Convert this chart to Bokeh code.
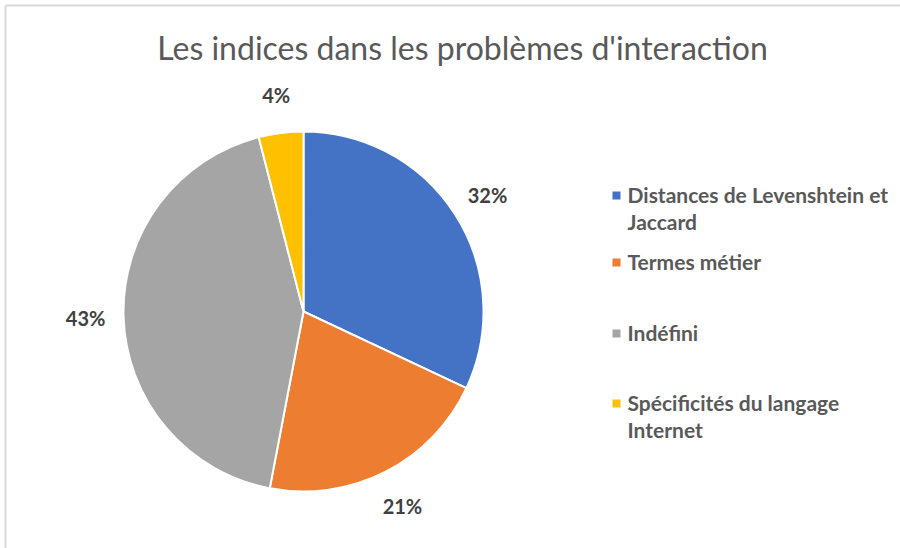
import numpy as np
from bokeh.plotting import figure
from bokeh.models import Range1d
from bokeh.core.properties import value
from bokeh.embed import file_html
from bokeh.resources import INLINE

categories = ["Distances de Levenshtein et\nJaccard", "Termes métier", "Indéfini",
              "Spécificités du langage\nInternet"]
values = [32, 21, 43, 4]
colors = ["#4472C4", "#ED7D31", "#A5A5A5", "#FFC000"]
labels = ["32%", "21%", "43%", "4%"]
title = "Les indices dans les problèmes d'interaction"

W, H = 900, 548
p = figure(width=W, height=H, x_range=Range1d(0, W), y_range=Range1d(0, H),
           output_backend="svg", toolbar_location=None, min_border=0)
p.axis.visible = False
p.grid.visible = False
p.outline_line_color = None
p.background_fill_color = "white"

# frame lines
p.segment(x0=[5, 5], y0=[H - 5, H - 5], x1=[W, 5], y1=[H - 5, 0],
          line_color="#d9d9d9", line_width=2)

cx, cy, r = 303, H - 311, 180
vals = np.array(values, dtype=float)
frac = vals / vals.sum()
ang = np.cumsum(np.concatenate([[0], frac])) * 2 * np.pi
start = np.pi / 2 - ang[:-1]
end = np.pi / 2 - ang[1:]
p.wedge(x=cx, y=cy, radius=r, start_angle=start, end_angle=end, direction="clock",
        fill_color=colors, line_color="white", line_width=2)

mid = (start + end) / 2
lr = 218
p.text(x=cx + lr * np.cos(mid), y=cy + lr * np.sin(mid), text=labels,
       text_font=value("Lato"), text_font_style="bold", text_font_size="20px",
       text_color="#404040", text_align="center", text_baseline="middle")

# title
p.text(x=[462], y=[H - 47], text=[title], text_font=value("Lato"),
       text_font_size="32px", text_color="#595959", text_align="center",
       text_baseline="middle")

# legend
fs = 21
lh = 1.07
spacing = fs * 1.2 * lh
leg_y = [195, 262, 333, 403]
nlines = [c.count("\n") + 1 for c in categories]
p.rect(x=[616] * 4, y=[H - v for v in leg_y], width=8, height=8,
       fill_color=colors, line_color=None)
p.text(x=[627] * 4, y=[H - v + 1 - (n - 1) * spacing / 2 for v, n in zip(leg_y, nlines)],
       text=categories,
       text_font=value("Lato"), text_font_style="bold", text_font_size=f"{fs}px",
       text_color="#595959", text_align="left", text_baseline="middle",
       text_line_height=lh)

open("out.html", "w").write(file_html(p, INLINE))
